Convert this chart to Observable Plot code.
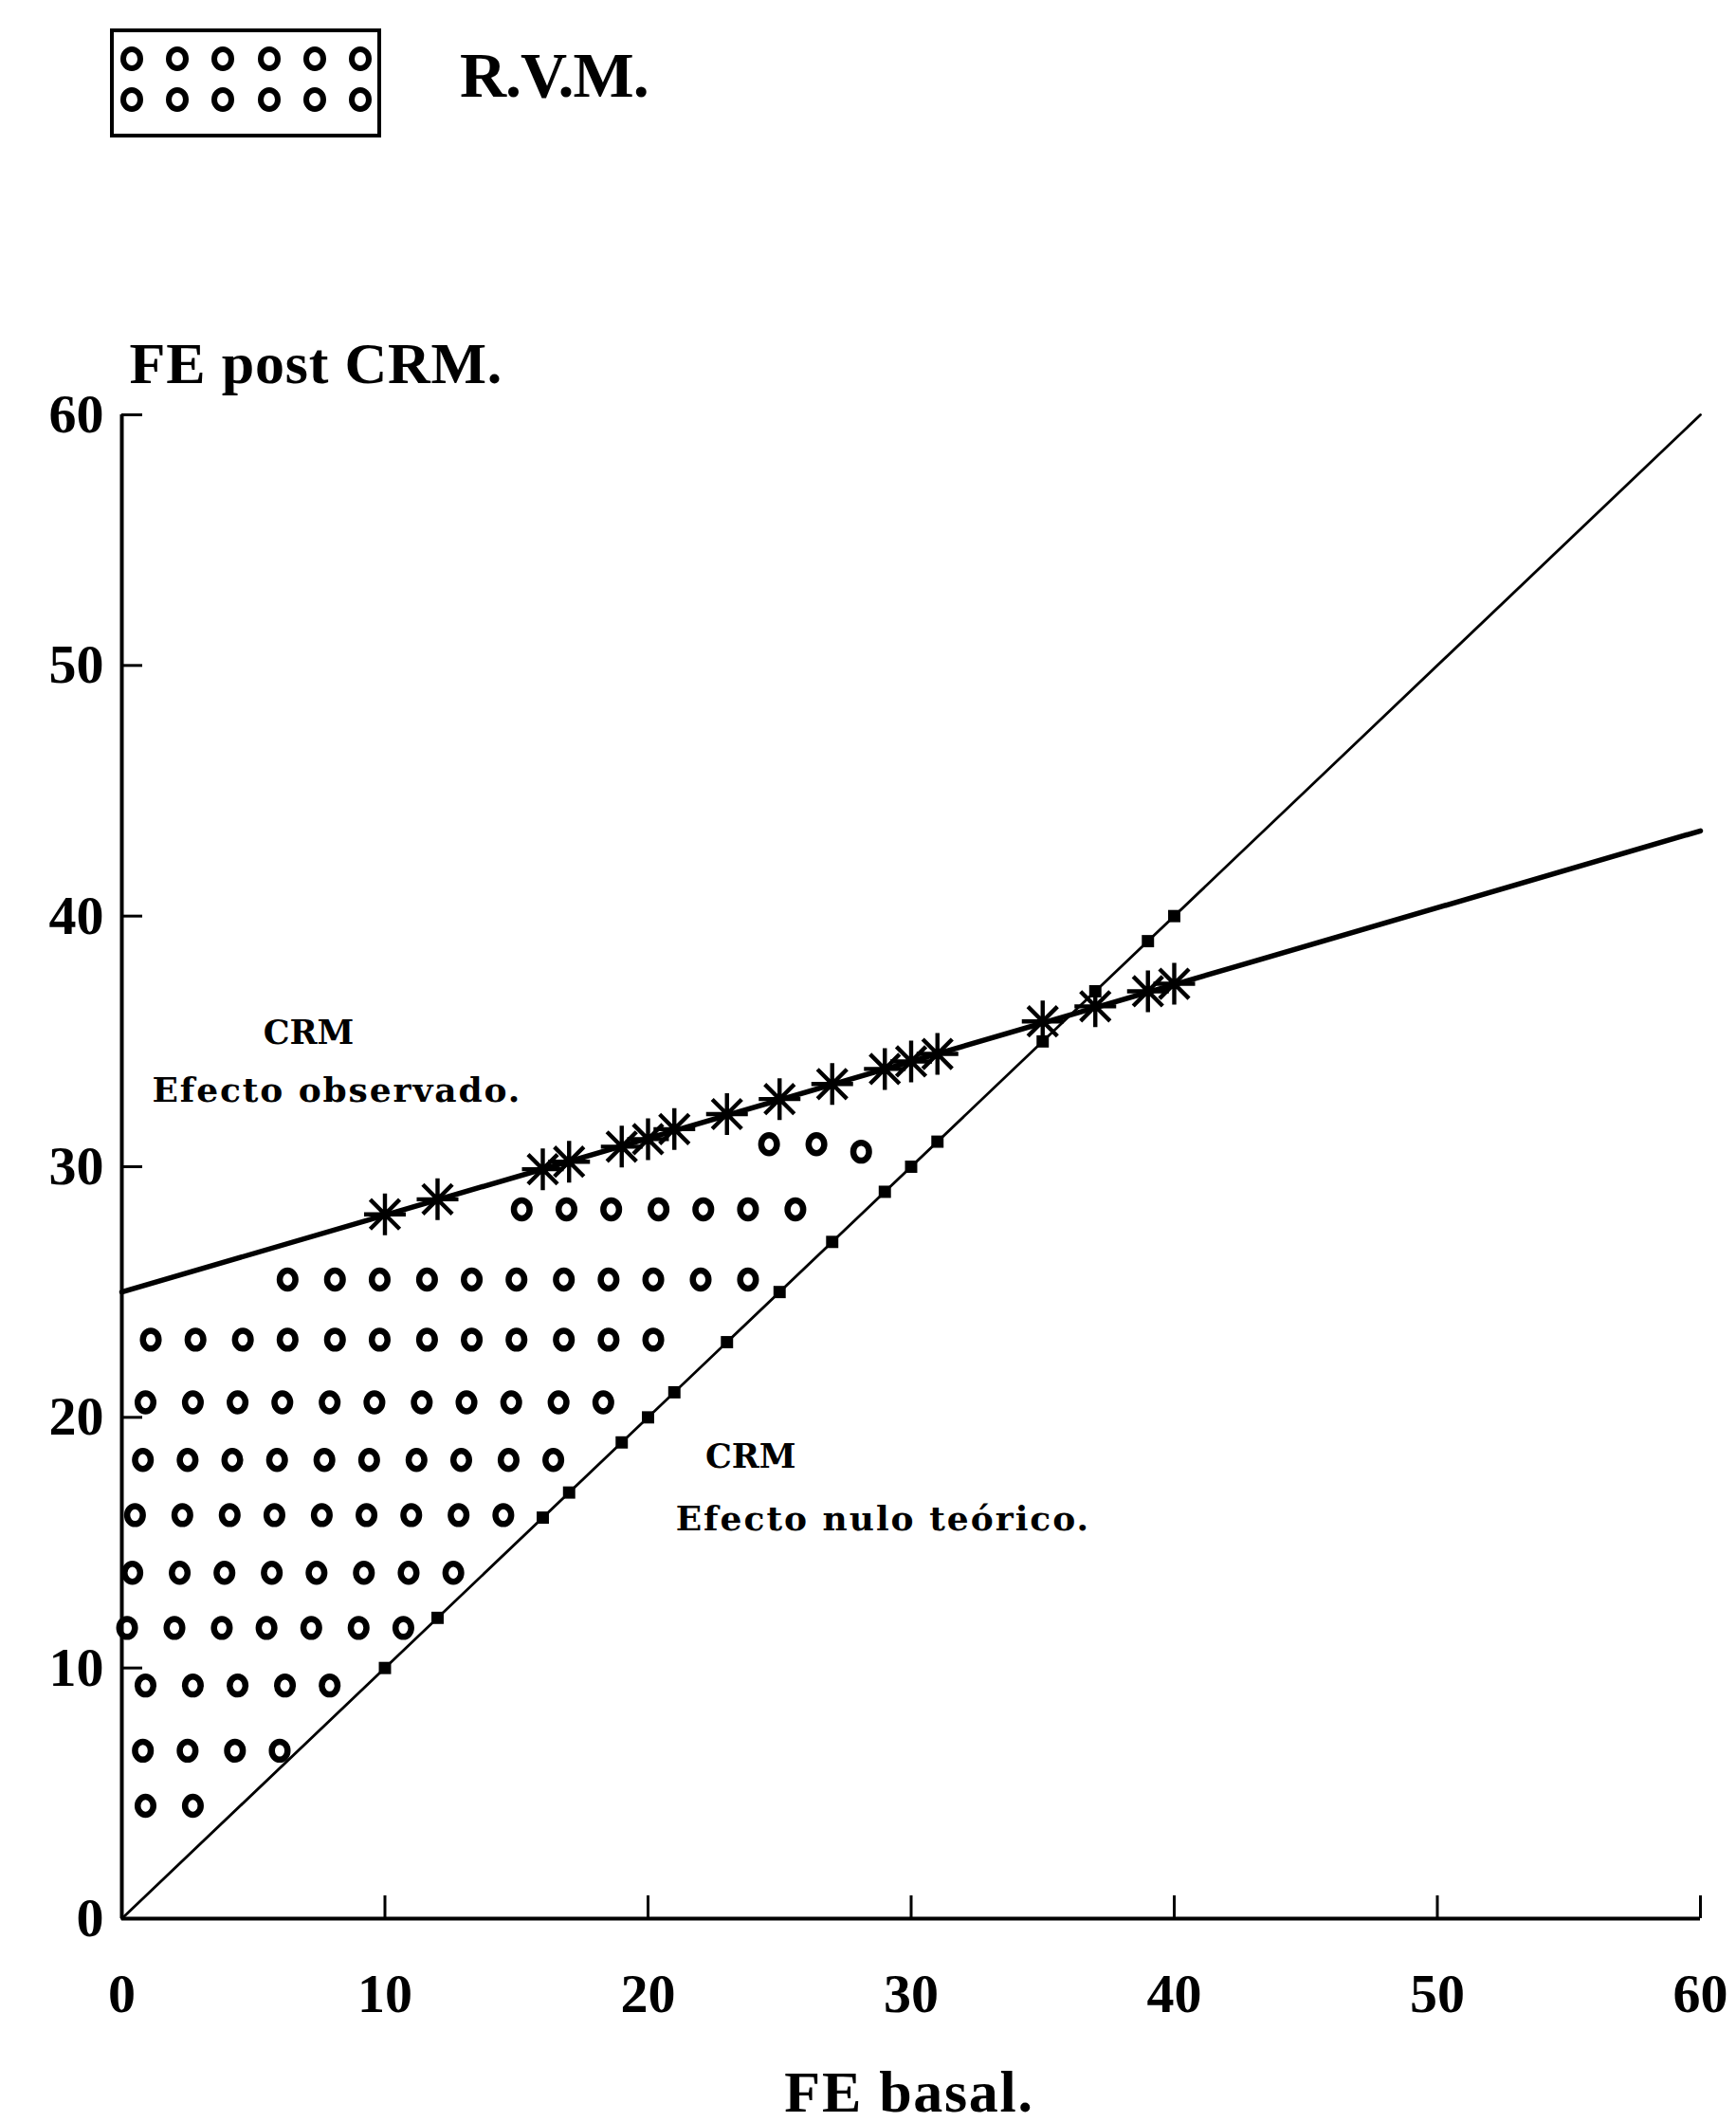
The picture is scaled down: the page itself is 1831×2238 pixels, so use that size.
<!DOCTYPE html>
<html>
<head>
<meta charset="utf-8">
<script src="https://cdn.jsdelivr.net/npm/d3@7"></script>
<script src="https://cdn.jsdelivr.net/npm/@observablehq/plot@0.6"></script>
<style>
html, body { margin: 0; padding: 0; background: #fff; }
#wrap { position: relative; width: 1831px; height: 2238px; overflow: hidden; background: #fff; }
#chart { position: absolute; left: 0; top: 0; }
#legend { position: absolute; left: 116px; top: 30px; width: 286px; height: 115px; border: 4px solid #000; box-sizing: border-box; }
.ring { position: absolute; width: 24px; height: 26px; border: 6.5px solid #000; border-radius: 50%; box-sizing: border-box; }
#legendLabel { position: absolute; left: 485px; top: 45px; font: bold 68px "Liberation Serif", serif; line-height: 68px; letter-spacing: -1px; white-space: nowrap; color: #000; }
</style>
</head>
<body>
<div id="wrap">
  <div id="chart"></div>
  <div id="legend"></div>
  <div id="legendLabel">R.V.M.</div>
</div>
<script>
// ---------- data ----------
const xTicks = [0, 10, 20, 30, 40, 50, 60];
const yTicks = [0, 10, 20, 30, 40, 50, 60];

// CRM: efecto observado (regression line) and efecto nulo teórico (identity)
const obsLineX = [0, 60];
const obsLineY = [25.0, 43.4];
const nullLineX = [0, 60];
const nullLineY = [0, 60];

// patients: FE basal and FE post CRM on each line
const crmX     = [10, 12, 16, 17, 19, 20, 21, 23, 25, 27, 29, 30, 31, 35, 37, 39, 40];
const crmObsY  = [28.1, 28.7, 29.9, 30.2, 30.8, 31.1, 31.5, 32.1, 32.7, 33.3, 33.9, 34.2, 34.5, 35.8, 36.4, 37.0, 37.3];
const crmNullY = [10, 12, 16, 17, 19, 20, 21, 23, 25, 27, 29, 30, 31, 35, 37, 39, 40];

// R.V.M. region: rows of circles
const rvmRowY = [30.9, 30.6, 28.3, 25.5, 23.1, 20.6, 18.3, 16.1, 13.8, 11.6, 9.3, 6.7, 4.5];
const rvmRowX = [
  [24.6, 26.4],
  [28.1],
  [15.2, 16.9, 18.6, 20.4, 22.1, 23.8, 25.6],
  [6.3, 8.1, 9.8, 11.6, 13.3, 15.0, 16.8, 18.5, 20.2, 22.0, 23.8],
  [1.1, 2.8, 4.6, 6.3, 8.1, 9.8, 11.6, 13.3, 15.0, 16.8, 18.5, 20.2],
  [0.9, 2.7, 4.4, 6.1, 7.9, 9.6, 11.4, 13.1, 14.8, 16.6, 18.3],
  [0.8, 2.5, 4.2, 5.9, 7.7, 9.4, 11.2, 12.9, 14.7, 16.4],
  [0.5, 2.3, 4.1, 5.8, 7.6, 9.3, 11.0, 12.8, 14.5],
  [0.4, 2.2, 3.9, 5.7, 7.4, 9.2, 10.9, 12.6],
  [0.2, 2.0, 3.8, 5.5, 7.2, 9.0, 10.7],
  [0.9, 2.7, 4.4, 6.2, 7.9],
  [0.8, 2.5, 4.3, 6.0],
  [0.9, 2.7]
];

// annotations
const titleText = ["CRM", "CRM"];
const titleX    = [7.1, 23.9];
const titleY    = [34.9, 18.0];
const noteText  = ["Efecto observado.", "Efecto nulo teórico."];
const noteX     = [1.15, 21.05];
const noteY     = [32.6, 15.5];

// ---------- derived tables ----------
const rvm = rvmRowY.flatMap((y, i) => rvmRowX[i].map(x => ({x, y})));
const obsLine = obsLineX.map((x, i) => ({x, y: obsLineY[i]}));
const nullLine = nullLineX.map((x, i) => ({x, y: nullLineY[i]}));
const obsPts = crmX.map((x, i) => ({x, y: crmObsY[i]}));
const nullPts = crmX.map((x, i) => ({x, y: crmNullY[i]}));
const titles = titleText.map((t, i) => ({t, x: titleX[i], y: titleY[i]}));
const notes = noteText.map((t, i) => ({t, x: noteX[i], y: noteY[i]}));

// 8-spoke asterisk symbol
const asterisk8 = {
  draw(ctx, size) {
    const r = Math.sqrt(size / Math.PI);
    for (let k = 0; k < 4; k++) {
      const a = k * Math.PI / 4;
      const dx = Math.cos(a) * r, dy = Math.sin(a) * r;
      ctx.moveTo(-dx, -dy);
      ctx.lineTo(dx, dy);
    }
  }
};
// slightly tall ellipse ("o" glyph look)
const ovalO = {
  draw(ctx, size) {
    const r = Math.sqrt(size / Math.PI);
    const rx = r * 0.92, ry = r * 1.05, k = 0.5523;
    ctx.moveTo(rx, 0);
    ctx.bezierCurveTo(rx, ry * k, rx * k, ry, 0, ry);
    ctx.bezierCurveTo(-rx * k, ry, -rx, ry * k, -rx, 0);
    ctx.bezierCurveTo(-rx, -ry * k, -rx * k, -ry, 0, -ry);
    ctx.bezierCurveTo(rx * k, -ry, rx, -ry * k, rx, 0);
    ctx.closePath();
  }
};

const W = 1831, H = 2238;
const mL = 128, mR = 38, mT = 437, mB = 215;
const innerW = W - mL - mR, innerH = H - mT - mB;

const svg = Plot.plot({
  width: W,
  height: H,
  marginLeft: mL, marginRight: mR, marginTop: mT, marginBottom: mB,
  x: {domain: [0, 60]},
  y: {domain: [0, 60]},
  style: {fontFamily: '"Liberation Serif", serif', background: "white", color: "black", overflow: "visible"},
  marks: [
    // lines
    Plot.line(nullLine, {x: "x", y: "y", stroke: "black", strokeWidth: 2.8}),
    Plot.line(obsLine, {x: "x", y: "y", stroke: "black", strokeWidth: 5.5}),
    // R.V.M. circles
    Plot.dot(rvm, {x: "x", y: "y", symbol: ovalO, r: 9, stroke: "black", strokeWidth: 6.5, fill: "none"}),
    // squares on identity line
    Plot.dot(nullPts, {x: "x", y: "y", symbol: "square", r: 7.3, fill: "black", stroke: "none"}),
    // asterisks on observed line
    Plot.dot(obsPts, {x: "x", y: "y", symbol: asterisk8, r: 22, stroke: "black", strokeWidth: 4.4, fill: "none"}),
    // annotations
    Plot.text(titles, {x: "x", y: "y", text: "t", textAnchor: "middle", lineAnchor: "bottom",
      fontSize: 35, fontWeight: "bold", fontFamily: '"DejaVu Serif", serif', fill: "black"}),
    Plot.text(notes, {x: "x", y: "y", text: "t", textAnchor: "start", lineAnchor: "bottom",
      fontSize: 36, fontWeight: "bold", fontFamily: '"DejaVu Serif", serif', fill: "black"}),
    // axes lines
    Plot.ruleY([0], {stroke: "black", strokeWidth: 4}),
    Plot.ruleX([0], {stroke: "black", strokeWidth: 4}),
    // inward ticks
    Plot.ruleX(xTicks, {x: d => d, insetTop: innerH - 24, stroke: "black", strokeWidth: 3}),
    Plot.ruleY(yTicks, {y: d => d, insetRight: innerW - 22, stroke: "black", strokeWidth: 3}),
    // tick labels
    Plot.axisX({ticks: xTicks, tickSize: 0, tickPadding: 57, fontSize: 58, fontWeight: "bold", label: null}),
    Plot.axisY({ticks: yTicks, tickSize: 0, tickPadding: 19, fontSize: 58, fontWeight: "bold", label: null}),
    // axis titles
    Plot.text(["FE post CRM."], {frameAnchor: "top-left", dx: 8, dy: -34, textAnchor: "start", lineAnchor: "bottom",
      fontSize: 62, fontWeight: "bold", fill: "black"}),
    Plot.text(["FE basal."], {frameAnchor: "bottom", dx: -2, dy: 203, textAnchor: "middle", lineAnchor: "bottom",
      fontSize: 62, fontWeight: "bold", fill: "black"})
  ]
});

const spacing = {"Efecto observado.": 1.9, "Efecto nulo teórico.": 2.0, "FE basal.": 1.7, "FE post CRM.": 0.8};
d3.select(svg).selectAll("text").each(function () {
  const t = this.textContent;
  if (spacing[t] !== undefined) this.setAttribute("letter-spacing", spacing[t]);
});
document.getElementById("chart").appendChild(svg);

// legend swatch: 2 rows x 6 circles
const legend = document.getElementById("legend");
for (let j = 0; j < 2; j++) {
  for (let i = 0; i < 6; i++) {
    const el = document.createElement("div");
    el.className = "ring";
    el.style.left = (23 + i * 48.2 - 12 - 4) + "px";
    el.style.top = (32 + j * 43 - 13 - 4) + "px";
    legend.appendChild(el);
  }
}
</script>
</body>
</html>
